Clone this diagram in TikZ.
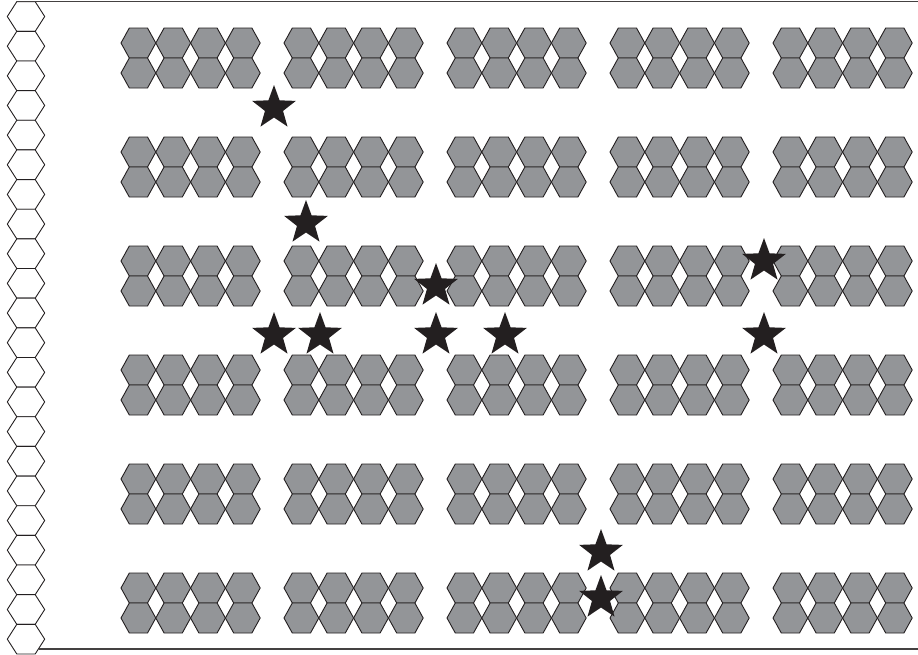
\documentclass[tikz,border=0pt]{standalone}
\usepackage{tikz}
\definecolor{ink}{RGB}{35,31,32}
\definecolor{cellgrey}{RGB}{147,149,152}
% flat-topped hexagon, centre (#1,#2)
\newcommand{\hexat}[2]{\draw[cell] (#1-17.4,#2) -- (#1-9.1,#2-15) -- (#1+9.1,#2-15)
  -- (#1+17.4,#2) -- (#1+9.1,#2+15) -- (#1-9.1,#2+15) -- cycle;}
\newcommand{\wallhex}[2]{\draw[wall] (#1-18.7,#2) -- (#1-9.2,#2-14.83) -- (#1+9.2,#2-14.83)
  -- (#1+18.7,#2) -- (#1+9.2,#2+14.83) -- (#1-9.2,#2+14.83) -- cycle;}
\newcommand{\starat}[2]{\fill[ink,shift={(#1,#2)}] (-90:23) -- (-54:9.5) -- (-18:23)
  -- (18:9.5) -- (54:23) -- (90:9.5) -- (126:23) -- (162:9.5) -- (198:23) -- (234:9.5) -- cycle;}

\begin{document}
\begin{tikzpicture}[x=1pt,y=-1pt,
    cell/.style={fill=cellgrey,draw=ink,line width=0.9pt},
    wall/.style={fill=white,draw=ink,line width=0.9pt},
    frame/.style={draw=ink!85,line width=1.2pt}]
  \useasboundingbox (0,0) rectangle (918,654);
  % left wall of hexagons
  \foreach \k in {0,...,21}{
    \wallhex{26}{16.5+29.65*\k}}
  % frame lines
  \draw[frame] (16.8,1.7) -- (918,1.7);
  \draw[frame] (38.5,649) -- (918,649);
  % blocks of 4x2 grey cells
  \foreach \cx in {0,...,4}
    \foreach \ry in {0,...,5}
      \foreach \hx in {0,...,3}
        \foreach \hy in {0,1}{
          \hexat{138.4+163*\cx+34.8*\hx}{43+109*\ry+30*\hy}}
  % stars
  \foreach \sx/\sy in {274/108,306/223,436/286,764/261,274/335,320/335,
                       436/335,505/335,764/335,601/552,601/598}{
    \starat{\sx}{\sy}}
\end{tikzpicture}
\end{document}
